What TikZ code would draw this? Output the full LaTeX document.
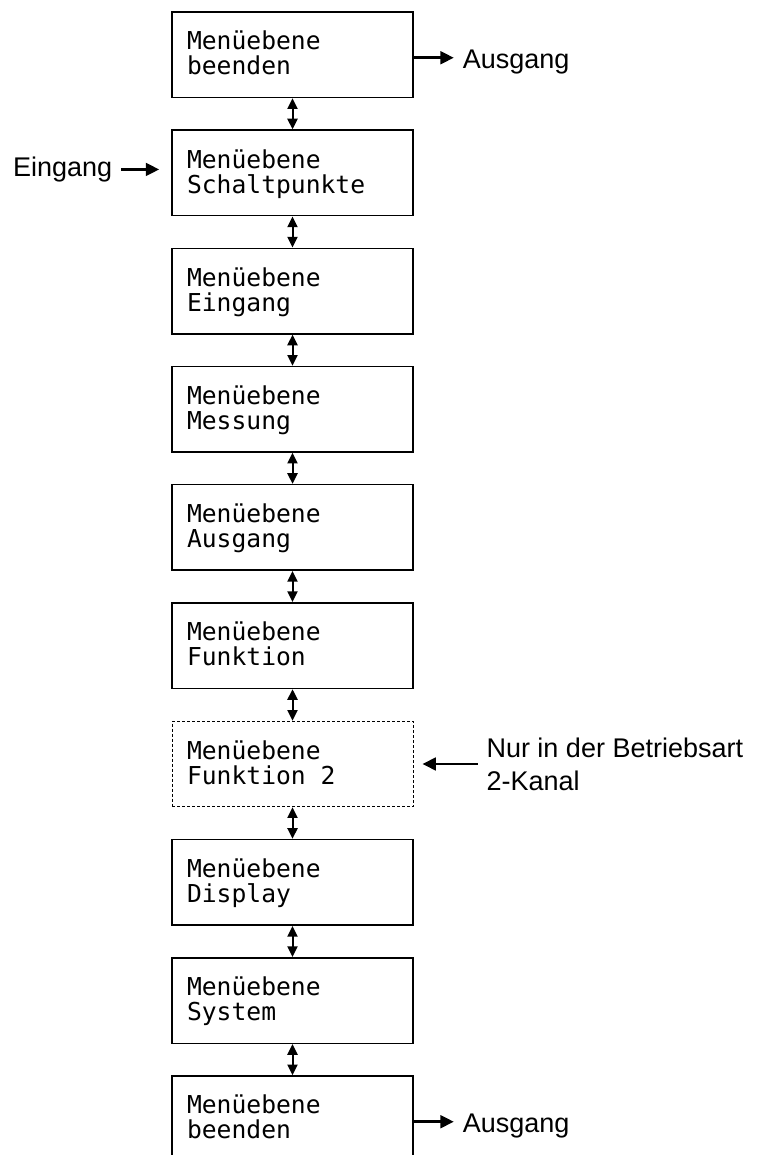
\documentclass[tikz,border=0pt]{standalone}
\usepackage{fontspec}
\setmainfont{Liberation Sans}
\newfontfamily\boxfont{DejaVu Sans Mono}
\usetikzlibrary{positioning,arrows.meta}

\newcommand{\menutext}[2]{\spaceskip=0pt\relax\rule{0pt}{16.125pt}#1\\#2\rule[-4.5pt]{0pt}{4.5pt}}

\tikzset{
	menubox/.style={draw, line width=1.2pt, minimum width=180.75pt, minimum height=64.125pt,
		text width=158.25pt, inner xsep=11.25pt, inner ysep=0pt, align=left,
		font=\boxfont\fontsize{18.5pt}{18.75pt}\selectfont},
	optbox/.style={menubox, line width=0.75pt, dash pattern=on 2.25pt off 1.5pt},
	lbl/.style={font=\fontsize{20.25pt}{24.75pt}\selectfont, inner sep=0pt, outer xsep=6.75pt},
	onelbl/.style={lbl, text height=16.5pt, text depth=0pt},
	updown/.style={arrows={Triangle[length=8pt,width=7.5pt]-Triangle[length=8pt,width=7.5pt]}, line width=1.5pt},
	flow/.style={arrows={-Triangle[length=10pt,width=9.5pt]}, line width=2pt}
}

\begin{document}
\begin{tikzpicture}[x=0.75pt, y=-0.75pt]
	\useasboundingbox (0,0) rectangle (761,1155);
	\clip (0,0) rectangle (761,1155);

	\node[menubox] (b1) at (292.5,54.75) {\menutext{Menüebene}{beenden}};
	\node[menubox, below=23.3pt of b1] (b2) {\menutext{Menüebene}{Schaltpunkte}};
	\node[menubox, below=23.3pt of b2] (b3) {\menutext{Menüebene}{Eingang}};
	\node[menubox, below=23.3pt of b3] (b4) {\menutext{Menüebene}{Messung}};
	\node[menubox, below=23.3pt of b4] (b5) {\menutext{Menüebene}{Ausgang}};
	\node[menubox, below=23.3pt of b5] (b6) {\menutext{Menüebene}{Funktion}};
	\node[optbox, below=23.7pt of b6] (b7) {\menutext{Menüebene}{Funktion 2}};
	\node[menubox, below=23.7pt of b7] (b8) {\menutext{Menüebene}{Display}};
	\node[menubox, below=23.3pt of b8] (b9) {\menutext{Menüebene}{System}};
	\node[menubox, below=23.3pt of b9] (b10) {\menutext{Menüebene}{beenden}};

	\draw[updown] (b1) -- (b2);
	\draw[updown] (b2) -- (b3);
	\draw[updown] (b3) -- (b4);
	\draw[updown] (b4) -- (b5);
	\draw[updown] (b5) -- (b6);
	\draw[updown] (b6) -- (b7);
	\draw[updown] (b7) -- (b8);
	\draw[updown] (b8) -- (b9);
	\draw[updown] (b9) -- (b10);

	% exits and entry
	\coordinate (e1) at ([yshift=-2.25pt]b1.east);
	\node[onelbl, right=30pt of e1] (out1) {Ausgang};
	\draw[flow] (e1) -- (out1);

	\coordinate (w2) at ([xshift=-9pt, yshift=2.6pt]b2.west);
	\node[onelbl, text height=11.1pt, left=28.5pt of w2] (in2) {Eingang};
	\draw[flow] (in2) -- (w2);

	\coordinate (e7) at ([xshift=6.75pt]b7.east);
	\node[lbl, align=left, right=41.25pt of e7] (note7) {Nur in der Betriebsart\\2-Kanal};
	\draw[flow] (note7) -- (e7);

	\coordinate (e10) at ([yshift=-2.25pt]b10.east);
	\node[onelbl, right=30pt of e10] (out10) {Ausgang};
	\draw[flow] (e10) -- (out10);
\end{tikzpicture}
\end{document}
